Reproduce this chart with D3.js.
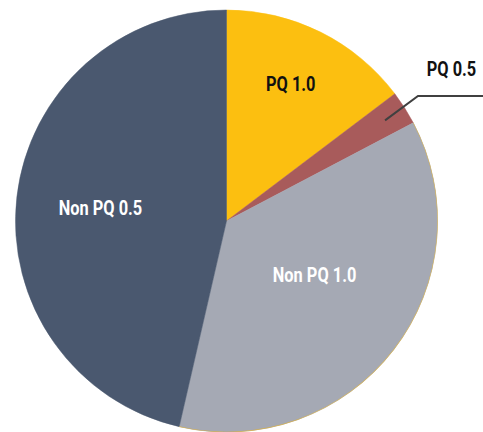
<!DOCTYPE html>
<html><head><meta charset="utf-8">
<script src="https://cdn.jsdelivr.net/npm/d3@7"></script>
<style>body{margin:0;background:#fff}svg{display:block}</style>
</head><body>
<svg id="c" width="483" height="432"></svg>
<script>
const categories = ["PQ 1.0", "PQ 0.5", "Non PQ 1.0", "Non PQ 0.5"];
const values = [14.7, 2.6, 36.3, 46.4];
const colors = ["#FCBF10", "#A85B5B", "#A5A9B4", "#4A586F"];
const labelColors = ["#111111", "#111111", "#ffffff", "#ffffff"];

const svg = d3.select("#c");
const cx = 226.5, cy = 221, r = 211;
const g = svg.append("g").attr("transform", `translate(${cx},${cy})`);
const data = categories.map((c, i) => ({c, v: values[i], i}));
const pie = d3.pie().value(d => d.v).sort(null);
const arcs = pie(data);
const arc = d3.arc().innerRadius(0).outerRadius(r);
g.selectAll("path.s").data(arcs).enter().append("path").attr("class", "s")
  .attr("d", arc).attr("fill", d => colors[d.data.i])
  .attr("stroke", d => colors[d.data.i]).attr("stroke-width", 0.5);
// thin gold rim on the light grey slice
const rim = d3.arc().innerRadius(r - 0.3).outerRadius(r + 0.3);
g.append("path").attr("d", rim(arcs[2])).attr("fill", "#D9AE3A").attr("opacity", 0.8);

const font = "Roboto, 'Liberation Sans', sans-serif";
const toRad = Math.PI / 180;
// label placement: [angle offset from slice middle (deg), radius fraction]
const place = [[-1.4, 0.719], null, [-6.2, 0.489], [-0.3, 0.601]];
function addLabel(x, y, text, fill) {
  g.append("text").attr("text-anchor", "middle")
    .attr("font-family", font).attr("font-weight", "bold").attr("font-size", 20)
    .attr("fill", fill).text(text)
    .attr("transform", `translate(${x},${y + 7.2}) scale(0.82,1)`);
}
arcs.forEach((a, k) => {
  if (!place[k]) return;
  const ang = (a.startAngle + a.endAngle) / 2 + place[k][0] * toRad;
  const rr = r * place[k][1];
  addLabel(Math.sin(ang) * rr, -Math.cos(ang) * rr, a.data.c, labelColors[k]);
});
// callout for small slice
const a1 = arcs[1];
const ang1 = (a1.startAngle + a1.endAngle) / 2;
const p0 = [Math.sin(ang1) * r * 0.89, -Math.cos(ang1) * r * 0.89];
const p1 = [418 - cx, 96 - cy];
const p2 = [483 - cx, 96 - cy];
g.append("polyline").attr("points", [p0, p1, p2].map(p => p.join(",")).join(" "))
  .attr("fill", "none").attr("stroke", "#404040").attr("stroke-width", 2);
addLabel(451.5 - cx, 69 - cy, categories[1], "#111111");
</script>
</body></html>
